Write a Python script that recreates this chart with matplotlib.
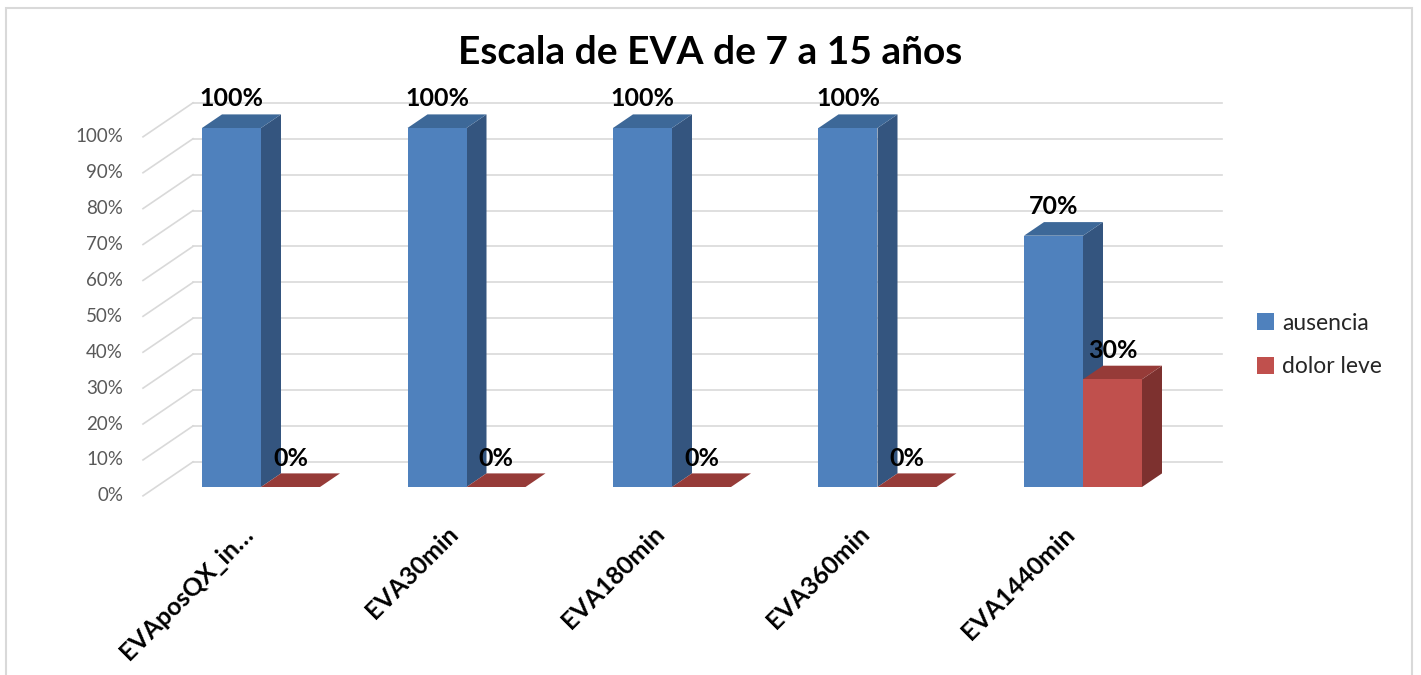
import matplotlib
matplotlib.use("Agg")
import matplotlib.pyplot as plt
from matplotlib.patches import Polygon, Patch, Rectangle

plt.rcParams['font.family'] = ['Lato', 'DejaVu Sans']

categories = ['EVAposQX_in…', 'EVA30min', 'EVA180min', 'EVA360min', 'EVA1440min']
ausencia = [1.0, 1.0, 1.0, 1.0, 0.7]
dolor_leve = [0.0, 0.0, 0.0, 0.0, 0.3]
series_names = ['ausencia', 'dolor leve']
yticks = [i / 10 for i in range(11)]

front_cols = ['#4F81BD', '#C0504D']
side_cols = ['#34557F', '#7D312F']
top_cols = ['#3D6898', '#963B38']

W, H = 1421, 675
fig = plt.figure(figsize=(W / 100, H / 100), dpi=100)

# pixel <-> data mapping for the front plane of the bars
PX_X, X0 = 205.5, 261.0
PX_Y, Y0 = 359.0, 487.0
ax_l, ax_r, ax_t, ax_b = 100, 1240, 70, 530
ax = fig.add_axes([ax_l / W, 1 - ax_b / H, (ax_r - ax_l) / W, (ax_b - ax_t) / H])
ax.set_xlim((ax_l - X0) / PX_X, (ax_r - X0) / PX_X)
ax.set_ylim((Y0 - ax_b) / PX_Y, (Y0 - ax_t) / PX_Y)
ax.axis('off')


def depth(d):
    return d / PX_X, 0.68 * d / PX_Y


x_left, x_right = (156 - X0) / PX_X, (1185 - X0) / PX_X
wdx, wdy = depth(37)
tdx, tdy = depth(-13)
bdx, bdy = depth(20)

# back wall gridlines and floor diagonals
for v in yticks:
    ax.plot([x_left + wdx, x_right + wdx], [v + wdy, v + wdy], color='#D9D9D9', lw=1.2, zorder=1)
    ax.plot([x_left + tdx, x_left + wdx], [v + tdy, v + wdy], color='#D9D9D9', lw=1.2, zorder=1)
    ax.text(x_left + tdx - 20 / PX_X, v + tdy, f'{int(round(v * 100))}%', ha='right', va='center',
            fontsize=13.5, color='#595959')

w = 59 / PX_X
series = [ausencia, dolor_leve]
z = 3
for i in range(len(categories)):
    for s, vals in enumerate(series):
        v = vals[i]
        xc = i + (s - 0.5) * w
        x0, x1 = xc - w / 2, xc + w / 2
        side = Polygon([(x1, 0), (x1 + bdx, bdy), (x1 + bdx, v + bdy), (x1, v)],
                       closed=True, facecolor=side_cols[s], edgecolor='none', zorder=z)
        top = Polygon([(x0, v), (x1, v), (x1 + bdx, v + bdy), (x0 + bdx, v + bdy)],
                      closed=True, facecolor=top_cols[s], edgecolor='none', zorder=z)
        ax.add_patch(side)
        ax.add_patch(top)
        ax.bar(xc, v, width=w, color=front_cols[s], zorder=z + 0.5, linewidth=0)
        ax.text(xc, v + 29 / PX_Y, f'{int(round(v * 100))}%', ha='center', va='center',
                fontsize=18, fontweight='bold', color='black', zorder=100)
        z += 1

for i, lab in enumerate(categories):
    ax.text(i - 20 / PX_X, (Y0 - 522) / PX_Y, lab, rotation=45, rotation_mode='anchor',
            ha='right', va='top', fontsize=18, fontweight='bold', color='black')

fig.text(710 / W, 1 - 52 / H, 'Escala de EVA de 7 a 15 años', ha='center', va='center',
         fontsize=28, fontweight='bold', color='black')

handles = [Patch(facecolor=c, edgecolor='none') for c in front_cols]
fig.legend(handles, series_names, loc='center left', bbox_to_anchor=(1236 / W, 1 - 345 / H),
           frameon=False, fontsize=16.5, handlelength=0.75, handleheight=0.75,
           handletextpad=0.35, labelspacing=1.0, labelcolor='#262626')

fig.patches.append(Rectangle((6 / W, -0.05), 1406 / W, 1 - 8 / H + 0.05, transform=fig.transFigure,
                             fill=False, edgecolor='#D9D9D9', lw=1.5))

fig.savefig('out.png', dpi=100, facecolor='white')
